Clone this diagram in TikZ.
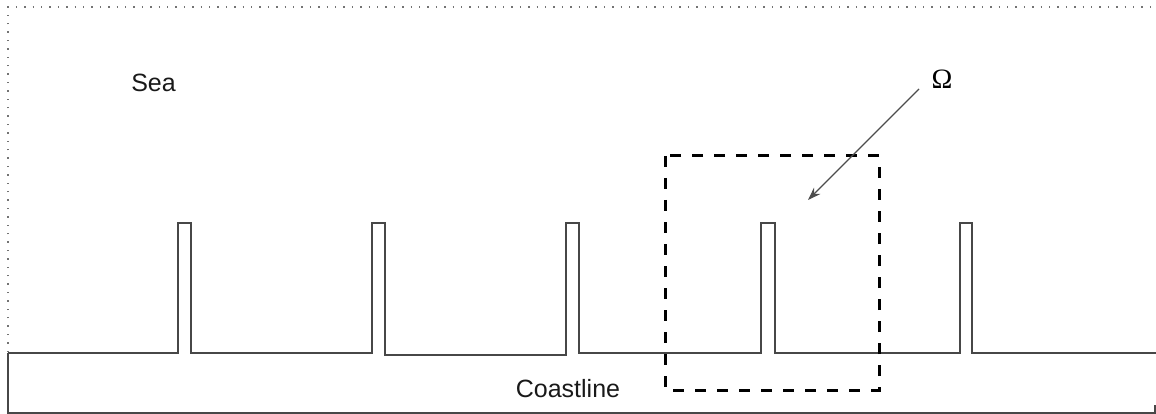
\documentclass[tikz,border=0pt]{standalone}
\usepackage{fontspec}
\setmainfont{Liberation Sans}
\newfontfamily\omegafont{Liberation Serif}
\usetikzlibrary{arrows.meta}
\tikzset{
  px/.style={x=1pt,y=-1pt},
  frameline/.style={draw=black!55,line width=1.4pt,dash pattern=on 1.4pt off 7pt},
  coast/.style={draw=black!72,line width=1.7pt,line join=miter},
  regionbox/.style={draw=black,line width=3pt,dash pattern=on 11pt off 11pt},
  pointer/.style={draw=black!70,line width=1.1pt,-{Stealth[length=13pt,width=9pt]}},
  label/.style={font=\fontsize{25}{29}\selectfont,inner sep=0pt,text=black!90},
}
\begin{document}
\begin{tikzpicture}[px]
\useasboundingbox (0,0) rectangle (1156,414);
% dotted frame
\draw[frameline] (8,352) -- (8,7) -- (1156,7);
% coastline with jetties
\draw[coast] (8,353) -- (178,353) -- (178,223) -- (191,223) -- (191,353)
  -- (372,353) -- (372,223) -- (385,223) -- (385,355)
  -- (566,355) -- (566,223) -- (579,223) -- (579,353)
  -- (761,353) -- (761,223) -- (775,223) -- (775,353)
  -- (960,353) -- (960,223) -- (972,223) -- (972,353)
  -- (1156,353);
\draw[coast] (8,353) -- (8,413) -- (1155,413) -- (1155,405);
% dashed region
\draw[regionbox] (665,156) rectangle (879,390);
% labels
\node[label] (sea) at (153.5,83) {Sea};
\node[label] (coastline) at (568,389) {Coastline};
\node[inner sep=0pt,font=\omegafont\fontsize{28}{32}\selectfont] (omega) at (942,79) {Ω};
\coordinate (arrowstart) at (919,89);
\coordinate (arrowend) at (808,200);
\draw[pointer] (arrowstart) -- (arrowend);
\end{tikzpicture}
\end{document}
